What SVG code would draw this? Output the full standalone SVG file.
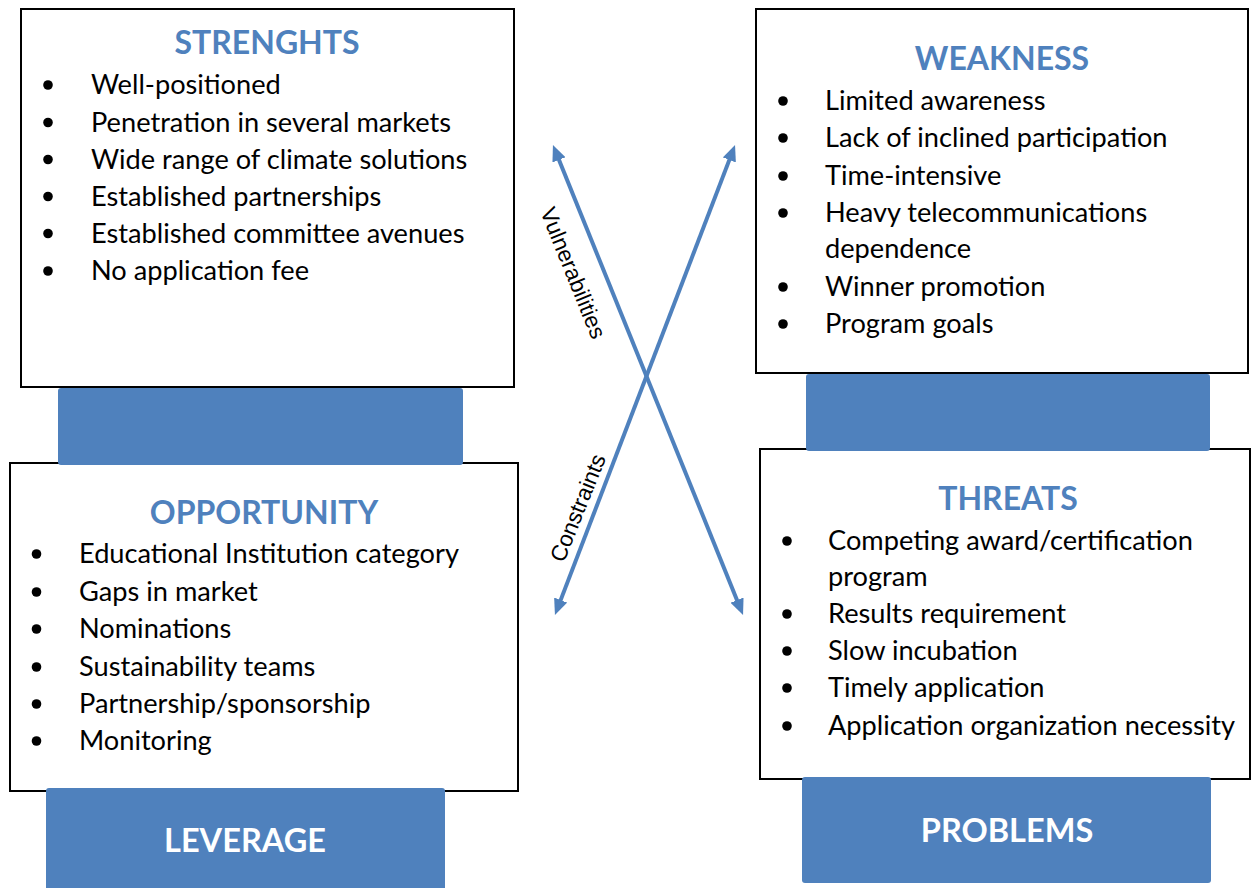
<svg xmlns="http://www.w3.org/2000/svg" width="1251" height="888" viewBox="0 0 1251 888">
  <style>
    .box { fill: #ffffff; stroke: #000000; stroke-width: 2; }
    .bar { fill: #4f81bd; }
    .title { font-family: Lato, "Open Sans", sans-serif; font-weight: bold; font-size: 32px; fill: #4f81bd; text-anchor: middle; }
    .bartext { font-family: Lato, "Open Sans", sans-serif; font-weight: bold; font-size: 32.5px; fill: #ffffff; text-anchor: middle; }
    .item { font-family: Lato, "Open Sans", sans-serif; font-size: 27.2px; fill: #000000; }
    .dot { fill: #000000; }
    .conn { fill: none; stroke: #4f81bd; stroke-width: 4; }
    .clabel { font-family: "Liberation Sans", Arial, sans-serif; font-size: 22.5px; fill: #000000; text-anchor: middle; dominant-baseline: central; }
  </style>
  <defs>
    <marker id="head" markerUnits="userSpaceOnUse" viewBox="0 0 16 14" markerWidth="16" markerHeight="14" refX="10" refY="7" orient="auto-start-reverse">
      <path d="M0,0 L16,7 L0,14 z" fill="#4f81bd"/>
    </marker>
  </defs>

  <rect width="1251" height="888" fill="#ffffff"/>

  <!-- quadrant frames -->
  <g id="strengths">
    <rect class="box" x="21" y="9" width="493" height="378"/>
    <text class="title" x="267" y="54">STRENGHTS</text>
    <circle class="dot" cx="48" cy="85" r="4.8"/><text class="item" x="91" y="94">Well-positioned</text>
    <circle class="dot" cx="48" cy="122.5" r="4.8"/><text class="item" x="91" y="131.5">Penetration in several markets</text>
    <circle class="dot" cx="48" cy="159.5" r="4.8"/><text class="item" x="91" y="168.5">Wide range of climate solutions</text>
    <circle class="dot" cx="48" cy="196.5" r="4.8"/><text class="item" x="91" y="205.5">Established partnerships</text>
    <circle class="dot" cx="48" cy="233.5" r="4.8"/><text class="item" x="91" y="242.5">Established committee avenues</text>
    <circle class="dot" cx="48" cy="271" r="4.8"/><text class="item" x="91" y="280">No application fee</text>
  </g>

  <g id="opportunity">
    <rect class="box" x="10" y="463" width="508" height="328"/>
    <text class="title" x="264" y="524">OPPORTUNITY</text>
    <circle class="dot" cx="36.5" cy="554" r="4.8"/><text class="item" x="79" y="563">Educational Institution category</text>
    <circle class="dot" cx="36.5" cy="592" r="4.8"/><text class="item" x="79" y="601">Gaps in market</text>
    <circle class="dot" cx="36.5" cy="629" r="4.8"/><text class="item" x="79" y="638">Nominations</text>
    <circle class="dot" cx="36.5" cy="667" r="4.8"/><text class="item" x="79" y="676">Sustainability teams</text>
    <circle class="dot" cx="36.5" cy="704" r="4.8"/><text class="item" x="79" y="713">Partnership/sponsorship</text>
    <circle class="dot" cx="36.5" cy="741" r="4.8"/><text class="item" x="79" y="750">Monitoring</text>
  </g>

  <g id="weakness">
    <rect class="box" x="756" y="9" width="492" height="364"/>
    <text class="title" x="1002" y="70">WEAKNESS</text>
    <circle class="dot" cx="783" cy="101" r="4.8"/><text class="item" x="825" y="110">Limited awareness</text>
    <circle class="dot" cx="783" cy="138" r="4.8"/><text class="item" x="825" y="147">Lack of inclined participation</text>
    <circle class="dot" cx="783" cy="176" r="4.8"/><text class="item" x="825" y="185">Time-intensive</text>
    <circle class="dot" cx="783" cy="213" r="4.8"/><text class="item" x="825" y="222">Heavy telecommunications</text>
    <text class="item" x="825" y="258">dependence</text>
    <circle class="dot" cx="783" cy="287" r="4.8"/><text class="item" x="825" y="296">Winner promotion</text>
    <circle class="dot" cx="783" cy="324" r="4.8"/><text class="item" x="825" y="333">Program goals</text>
  </g>

  <g id="threats">
    <rect class="box" x="760" y="449" width="490" height="330"/>
    <text class="title" x="1008" y="510">THREATS</text>
    <circle class="dot" cx="787" cy="541" r="4.8"/><text class="item" x="828" y="550">Competing award/certification</text>
    <text class="item" x="828" y="586">program</text>
    <circle class="dot" cx="787" cy="614" r="4.8"/><text class="item" x="828" y="623">Results requirement</text>
    <circle class="dot" cx="787" cy="651" r="4.8"/><text class="item" x="828" y="660">Slow incubation</text>
    <circle class="dot" cx="787" cy="688" r="4.8"/><text class="item" x="828" y="697">Timely application</text>
    <circle class="dot" cx="787" cy="726" r="4.8"/><text class="item" x="828" y="735">Application organization necessity</text>
  </g>

  <!-- blue label bars sit over the frame borders -->
  <g id="strengths-bar">
    <rect class="bar" x="58" y="388" width="405" height="77" rx="3"/>
  </g>
  <g id="weakness-bar">
    <rect class="bar" x="806" y="374" width="404" height="77" rx="3"/>
  </g>
  <g id="leverage">
    <rect class="bar" x="46" y="788" width="399" height="104" rx="3"/>
    <text class="bartext" x="245" y="852">LEVERAGE</text>
  </g>
  <g id="problems">
    <rect class="bar" x="802" y="777" width="409" height="106" rx="3"/>
    <text class="bartext" x="1007" y="842">PROBLEMS</text>
  </g>

  <!-- crossing double-headed arrows -->
  <g id="connectors">
    <line class="conn" x1="555.2" y1="150.6" x2="740.8" y2="609.4" marker-start="url(#head)" marker-end="url(#head)"/>
    <line class="conn" x1="732.9" y1="150.6" x2="557.1" y2="609.4" marker-start="url(#head)" marker-end="url(#head)"/>
    <text class="clabel" transform="translate(573,273) rotate(68)">Vulnerabilities</text>
    <text class="clabel" transform="translate(578,508) rotate(-68)">Constraints</text>
  </g>
</svg>
